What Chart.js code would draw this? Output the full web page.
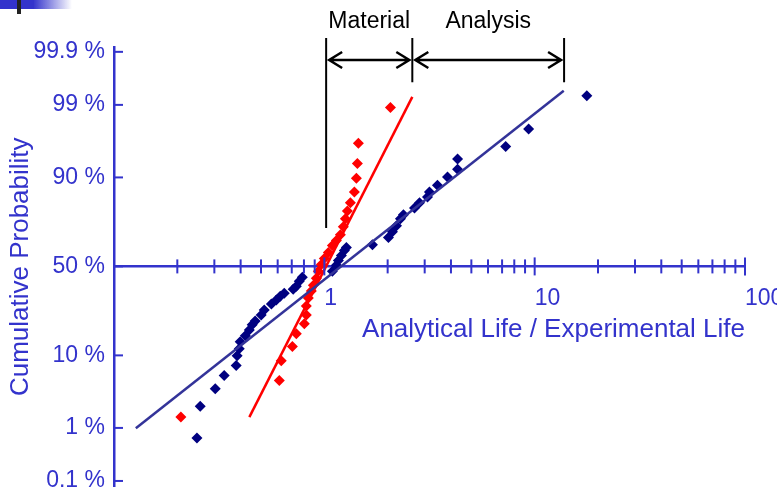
<!DOCTYPE html>
<html lang="en">
<head>
    <meta charset="UTF-8">
    <title>Analytical Life / Experimental Life</title>
    <script src="https://cdn.jsdelivr.net/npm/chart.js"></script>
    <style>
        body {
            margin: 0;
            background: #ffffff;
        }
        .chart-box {
            width: 777px;
            height: 492px;
        }
    </style>
</head>
<body>
    <div class="chart-box">
        <canvas id="lifeChart"></canvas>
    </div>

    <script>
        // navy series: life ratio and cumulative probability (%)
        const navyLife = [0.248, 0.257, 0.303, 0.334, 0.381, 0.385, 0.394, 0.398, 0.421, 0.440,
            0.454, 0.469, 0.501, 0.518, 0.560, 0.591, 0.617, 0.645, 0.711, 0.736,
            0.760, 0.786, 1.092, 1.141, 1.166, 1.205, 1.245, 1.273, 1.693, 2.018,
            2.108, 2.203, 2.300, 2.377, 2.684, 2.834, 3.093, 3.16, 3.45, 3.85,
            4.30, 4.30, 7.28, 9.36, 17.7];
        const navyProb = [0.67, 2.2, 3.9, 5.8, 7.7, 9.9, 11.8, 13.9, 15.9, 18.0,
            20.0, 21.6, 24.2, 26.5, 29.4, 31.4, 33.4, 35.0, 37.1, 38.7,
            41.5, 43.8, 47.2, 50.6, 53.4, 56.2, 59.0, 60.7, 62.3, 66.1,
            69.1, 72.1, 75.4, 77.1, 80.0, 82.0, 84.1, 85.8, 87.9, 90.1,
            91.9, 93.9, 95.8, 97.6, 99.3];

        // red series
        const redLife = [0.208, 0.611, 0.624, 0.705, 0.736, 0.803, 0.821, 0.821, 0.839, 0.867,
            0.887, 0.916, 0.936, 0.968, 1.0, 1.045, 1.092, 1.141, 1.192, 1.231,
            1.259, 1.287, 1.330, 1.389, 1.420, 1.436, 1.452, 2.062];
        const redProb = [1.5, 5.0, 8.7, 12.4, 16.6, 20.4, 24.2, 28.4, 32.4, 36.1,
            39.3, 43.2, 47.2, 51.1, 54.5, 57.9, 61.8, 64.5, 67.6, 71.6,
            75.4, 78.8, 82.0, 85.8, 89.8, 93.1, 96.2, 98.9];

        // fitted lines (end points)
        const navyFitLife = [0.127, 13.75];
        const navyFitProb = [0.99, 99.43];
        const redFitLife = [0.44, 2.62];
        const redFitProb = [1.5, 99.27];

        // axis ticks
        const probTicks = [0.1, 1, 10, 50, 90, 99, 99.9];
        const lifeLabels = [1, 10, 100];

        // Material / Analysis ranges
        const rangeBounds = [1.02, 2.62, 13.8];
        const rangeBottomProb = [71, 99.6, 99.6];
        const rangeNames = ['Material', 'Analysis'];

        const axisBlue = '#3333cc';
        const fontFamily = 'Arial, "Liberation Sans", sans-serif';

        // inverse normal cdf (Acklam)
        function probit(p) {
            const a = [-3.969683028665376e+01, 2.209460984245205e+02, -2.759285104469687e+02, 1.383577518672690e+02, -3.066479806614716e+01, 2.506628277459239e+00];
            const b = [-5.447609879822406e+01, 1.615858368580409e+02, -1.556989798598866e+02, 6.680131188771972e+01, -1.328068155288572e+01];
            const c = [-7.784894002430293e-03, -3.223964580411365e-01, -2.400758277161838e+00, -2.549732539343734e+00, 4.374664141464968e+00, 2.938163982698783e+00];
            const d = [7.784695709041462e-03, 3.224671290700398e-01, 2.445134137142996e+00, 3.754408661907416e+00];
            const pl = 0.02425;
            if (p < pl) {
                const q = Math.sqrt(-2 * Math.log(p));
                return (((((c[0] * q + c[1]) * q + c[2]) * q + c[3]) * q + c[4]) * q + c[5]) / ((((d[0] * q + d[1]) * q + d[2]) * q + d[3]) * q + 1);
            }
            if (p <= 1 - pl) {
                const q = p - 0.5, r = q * q;
                return (((((a[0] * r + a[1]) * r + a[2]) * r + a[3]) * r + a[4]) * r + a[5]) * q / (((((b[0] * r + b[1]) * r + b[2]) * r + b[3]) * r + b[4]) * r + 1);
            }
            const q = Math.sqrt(-2 * Math.log(1 - p));
            return -(((((c[0] * q + c[1]) * q + c[2]) * q + c[3]) * q + c[4]) * q + c[5]) / ((((d[0] * q + d[1]) * q + d[2]) * q + d[3]) * q + 1);
        }

        function toPoints(life, prob) {
            return life.map((v, i) => ({ x: v, y: probit(prob[i] / 100) }));
        }

        // tick marks, top-left decoration and the range annotations
        const decoPlugin = {
            id: 'deco',
            beforeDraw(chart) {
                const ctx = chart.ctx;
                const g = ctx.createLinearGradient(33, 0, 72, 0);
                g.addColorStop(0, axisBlue);
                g.addColorStop(1, 'rgba(51,51,204,0)');
                ctx.save();
                ctx.fillStyle = axisBlue;
                ctx.fillRect(0, 0, 34, 9);
                ctx.fillStyle = g;
                ctx.fillRect(33, 0, 40, 9);
                ctx.fillStyle = '#222222';
                ctx.fillRect(17, 0, 4, 14);
                ctx.restore();
            },
            afterDraw(chart) {
                const ctx = chart.ctx;
                const xs = chart.scales.x;
                const ys = chart.scales.y;
                const left = chart.chartArea.left;
                const y0 = ys.getPixelForValue(0);
                ctx.save();
                ctx.strokeStyle = axisBlue;
                ctx.lineWidth = 2;
                xs.ticks.forEach(t => {
                    const px = xs.getPixelForValue(t.value);
                    if (px <= left + 2) return;
                    const h = lifeLabels.includes(t.value) ? 9 : 7;
                    ctx.beginPath();
                    ctx.moveTo(px, y0 - h);
                    ctx.lineTo(px, y0 + h);
                    ctx.stroke();
                });
                ys.ticks.forEach(t => {
                    const py = ys.getPixelForValue(t.value);
                    ctx.beginPath();
                    ctx.moveTo(left, py);
                    ctx.lineTo(left + 9, py);
                    ctx.stroke();
                });

                // range markers
                const topY = 38, arrowY = 60;
                ctx.strokeStyle = '#000000';
                ctx.lineWidth = 2;
                const bx = rangeBounds.map(v => xs.getPixelForValue(v));
                bx.forEach((px, i) => {
                    ctx.beginPath();
                    ctx.moveTo(px, topY);
                    ctx.lineTo(px, ys.getPixelForValue(probit(rangeBottomProb[i] / 100)));
                    ctx.stroke();
                });
                ctx.lineWidth = 2.5;
                ctx.fillStyle = '#000000';
                ctx.font = '23px ' + fontFamily;
                ctx.textAlign = 'center';
                ctx.textBaseline = 'middle';
                for (let i = 0; i < rangeNames.length; i++) {
                    const x1 = bx[i] + 3, x2 = bx[i + 1] - 3;
                    ctx.beginPath();
                    ctx.moveTo(x1, arrowY);
                    ctx.lineTo(x2, arrowY);
                    ctx.moveTo(x1 + 13, arrowY - 8);
                    ctx.lineTo(x1, arrowY);
                    ctx.lineTo(x1 + 13, arrowY + 8);
                    ctx.moveTo(x2 - 13, arrowY - 8);
                    ctx.lineTo(x2, arrowY);
                    ctx.lineTo(x2 - 13, arrowY + 8);
                    ctx.stroke();
                    ctx.fillText(rangeNames[i], (bx[i] + bx[i + 1]) / 2, 22);
                }
                ctx.restore();
            }
        };

        Chart.defaults.font.family = fontFamily;
        Chart.defaults.color = axisBlue;

        new Chart(document.getElementById('lifeChart'), {
            type: 'scatter',
            data: {
                datasets: [
                    {
                        data: toPoints(navyFitLife, navyFitProb),
                        showLine: true,
                        borderColor: '#333399',
                        borderWidth: 2.5,
                        pointRadius: 0
                    },
                    {
                        data: toPoints(redFitLife, redFitProb),
                        showLine: true,
                        borderColor: '#ff0000',
                        borderWidth: 2.5,
                        pointRadius: 0
                    },
                    {
                        data: toPoints(navyLife, navyProb),
                        pointStyle: 'rectRot',
                        pointRadius: 5.5,
                        borderWidth: 0,
                        backgroundColor: '#000080'
                    },
                    {
                        data: toPoints(redLife, redProb),
                        pointStyle: 'rectRot',
                        pointRadius: 5.5,
                        borderWidth: 0,
                        backgroundColor: '#ff0000'
                    }
                ]
            },
            options: {
                responsive: true,
                maintainAspectRatio: false,
                animation: false,
                layout: {
                    padding: { left: 0, right: 32, top: 47, bottom: 2 }
                },
                plugins: {
                    legend: { display: false },
                    tooltip: { enabled: false }
                },
                scales: {
                    x: {
                        type: 'logarithmic',
                        min: 0.1,
                        max: 100,
                        position: { y: 0 },
                        grid: { display: false },
                        border: { display: true, color: axisBlue, width: 2.5 },
                        afterBuildTicks: scale => {
                            const t = [];
                            [0.1, 1, 10].forEach(d => {
                                for (let m = 1; m < 10; m++) t.push({ value: Number((d * m).toPrecision(3)) });
                            });
                            t.push({ value: 100 });
                            scale.ticks = t;
                        },
                        afterFit: scale => {
                            scale.paddingLeft = 0;
                            scale.paddingRight = 0;
                        },
                        ticks: {
                            autoSkip: false,
                            maxRotation: 0,
                            align: 'start',
                            padding: 10,
                            font: { size: 23 },
                            callback: v => lifeLabels.includes(v) ? String(v) : ''
                        },
                        title: {
                            display: true,
                            text: 'Analytical Life / Experimental Life',
                            align: 'end',
                            font: { size: 26 },
                            padding: { top: -8, bottom: 0 }
                        }
                    },
                    y: {
                        type: 'linear',
                        min: -3.17,
                        max: 3.16,
                        grid: { display: false },
                        border: { display: true, color: axisBlue, width: 2.5 },
                        afterBuildTicks: scale => {
                            scale.ticks = probTicks.map(p => ({ value: probit(p / 100) }));
                        },
                        afterFit: scale => {
                            scale.width = 114;
                            scale.paddingTop = 0;
                            scale.paddingBottom = 0;
                        },
                        ticks: {
                            padding: 1,
                            font: { size: 23 },
                            callback: (v, i) => probTicks[i] + ' %'
                        },
                        title: {
                            display: true,
                            text: 'Cumulative Probability',
                            font: { size: 26 },
                            padding: { top: 5, bottom: 0 }
                        }
                    }
                }
            },
            plugins: [decoPlugin]
        });
    </script>
</body>
</html>
